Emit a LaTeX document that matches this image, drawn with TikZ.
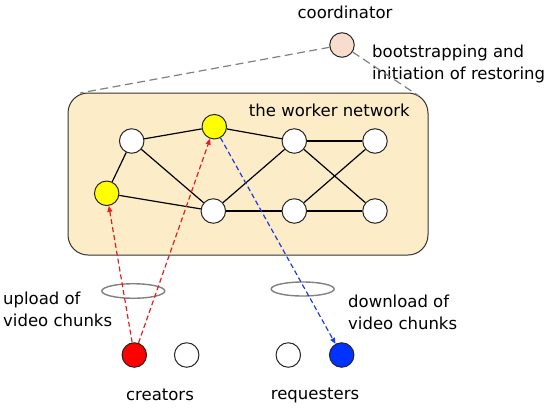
\documentclass[tikz,border=0pt]{standalone}
\usepackage{fontspec}
\setmainfont{DejaVu Sans}
\usetikzlibrary{arrows.meta,shapes.geometric}
\definecolor{netfill}{RGB}{252,236,200}
\definecolor{coordfill}{RGB}{248,220,206}
\definecolor{nodeyellow}{RGB}{255,255,0}
\definecolor{nodered}{RGB}{255,0,0}
\definecolor{nodeblue}{RGB}{0,51,255}
\definecolor{linegray}{RGB}{128,128,128}
\definecolor{arrred}{RGB}{230,30,30}
\definecolor{arrblue}{RGB}{30,60,220}
\tikzset{
  peer/.style={circle, draw=black!85, line width=1pt, minimum size=24.5pt, inner sep=0pt, fill=white},
  lbl/.style={font=\fontsize{16.5}{22}\selectfont, inner sep=0pt, text=black},
  edge/.style={line width=1.2pt, black},
  graydash/.style={draw=linegray, line width=1.2pt, dash pattern=on 8pt off 4.5pt},
  redarrow/.style={draw=arrred, line width=1.2pt, dash pattern=on 5pt off 3pt, -{Triangle[length=6pt,width=5pt]}},
  bluearrow/.style={draw=arrblue, line width=1.2pt, dash pattern=on 5pt off 3pt, -{Triangle[length=6pt,width=5pt]}},
  ring/.style={draw=linegray, line width=1.4pt}
}
\begin{document}
\begin{tikzpicture}[x=1pt,y=-1pt]
\useasboundingbox (0,0) rectangle (550,408);
% worker network box
\node[draw=black!80, line width=1pt, fill=netfill, rounded corners=20pt, minimum width=360pt, minimum height=162pt, inner sep=0pt] (box) at (248,174) {};
\node[lbl, anchor=east] (boxlbl) at (410,110) {the worker network};
% coordinator
\node[peer, fill=coordfill] (coord) at (342,45) {};
\node[lbl] (coordlbl) at (345,12) {coordinator};
\node[lbl, anchor=west, align=left] (bootlbl) at (372,64) {bootstrapping and\\initiation of restoring};
\coordinate (boxtl) at (80,93);
\coordinate (boxtr) at (419,96);
\draw[graydash] (coord) -- (boxtl);
\draw[graydash] (coord) -- (boxtr);
% network nodes
\node[peer] (n1) at (131.7,141) {};
\node[peer, fill=nodeyellow] (y1) at (214.3,126.7) {};
\node[peer] (n3) at (294.3,141) {};
\node[peer] (n4) at (375,141) {};
\node[peer, fill=nodeyellow] (y2) at (106.7,193.3) {};
\node[peer] (n6) at (213.3,211) {};
\node[peer] (n7) at (294.3,211) {};
\node[peer] (n8) at (375,211) {};
\draw[edge] (n1) -- (y1);
\draw[edge] (n1) -- (y2);
\draw[edge] (n1) -- (n6);
\draw[edge] (y1) -- (n3);
\draw[edge] (y2) -- (n6);
\draw[edge] (n6) -- (n3);
\draw[edge] (n6) -- (n7);
\draw[edge] (n3) -- (n4);
\draw[edge] (n3) -- (n8);
\draw[edge] (n7) -- (n4);
\draw[edge] (n7) -- (n8);
% bottom peers
\node[peer, fill=nodered] (cr1) at (134.3,355) {};
\node[peer] (cr2) at (186.7,355) {};
\node[peer] (rq1) at (288.3,355) {};
\node[peer, fill=nodeblue] (rq2) at (341.7,355) {};
\node[lbl] (crlbl) at (160,395) {creators};
\node[lbl] (rqlbl) at (315,395) {requesters};
\node[lbl, anchor=west, align=left] (uplbl) at (3,309) {upload of\\video chunks};
\node[lbl, anchor=west, align=left] (dnlbl) at (348,312.5) {download of\\video chunks};
% rings
\node[ring, ellipse, minimum width=63pt, minimum height=14.5pt, inner sep=0pt] (ringl) at (133.3,291) {};
\node[ring, ellipse, minimum width=63pt, minimum height=14pt, inner sep=0pt] (ringr) at (302.7,289) {};
% arrows
\draw[redarrow] (cr1) -- (y2);
\draw[redarrow] (cr1) -- (y1);
\draw[bluearrow] (y1) -- (rq2);
\end{tikzpicture}
\end{document}
